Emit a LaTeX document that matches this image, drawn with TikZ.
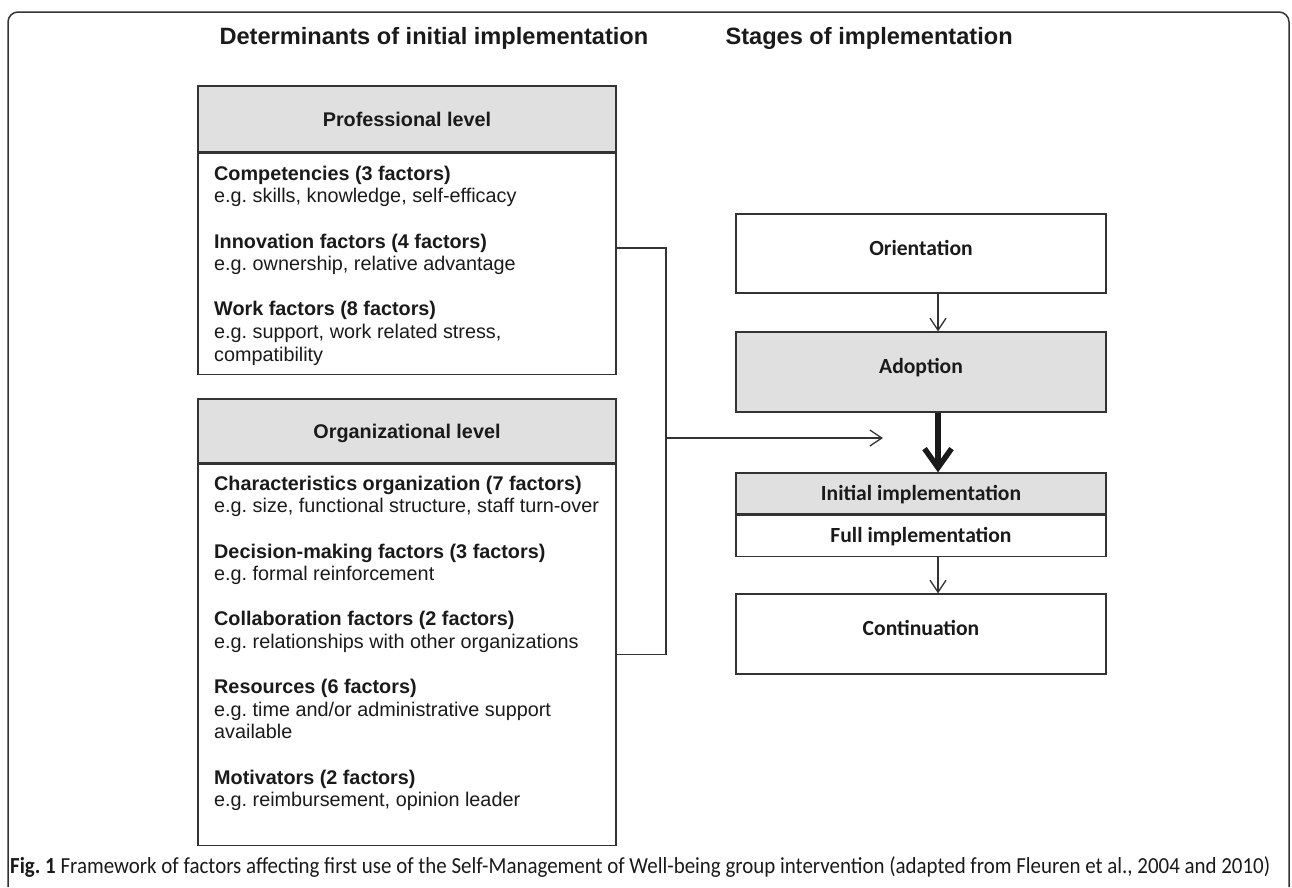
\documentclass[tikz,border=0pt]{standalone}
\usepackage{fontspec}
\setmainfont{Liberation Sans}
\newfontfamily\stagefont{Carlito}
\newfontfamily\capfont[FakeStretch=0.91]{Carlito}
\usetikzlibrary{arrows.meta, positioning, calc}
\definecolor{boxgray}{RGB}{224, 224, 224}
\definecolor{linegray}{RGB}{51, 51, 51}
\definecolor{inkblack}{RGB}{26, 26, 26}
\frenchspacing

\begin{document}
\begin{tikzpicture}[x=1pt, y=-1pt,
      heading/.style = {anchor=base west, text=inkblack,
                        font=\fontsize{23.6}{28}\selectfont\bfseries},
      levelhead/.style = {draw=linegray, line width=1.3pt, fill=boxgray,
                          minimum width=418pt, inner sep=0pt, text=inkblack,
                          font=\fontsize{19.8}{22.6}\selectfont\bfseries,
                          text height=14.2pt, text depth=0pt},
      levelbody/.style = {draw=linegray, line width=1.3pt,
                          minimum width=418pt, inner sep=0pt},
      factors/.style  = {anchor=north west, inner sep=0pt, align=left,
                         text=inkblack, font=\fontsize{19.8}{22.6}\selectfont},
      stage/.style    = {draw=linegray, line width=1.3pt, minimum width=370pt,
                         inner sep=0pt, text=inkblack,
                         font=\stagefont\fontsize{21.6}{26}\selectfont\bfseries,
                         text height=14pt, text depth=11pt},
      substage/.style = {stage, text depth=0pt, minimum height=41pt},
      link/.style     = {draw=linegray, line width=1.3pt},
      flow/.style     = {link, -{Straight Barb[length=12pt, width=16pt]}},
      bigflow/.style  = {draw=inkblack, line width=5.5pt,
                         -{Straight Barb[length=19pt, width=27pt]}},
    ]
    \useasboundingbox (0,0) rectangle (1292,887);

    % --- Rahmen ---
    \draw[linegray, line width=1.5pt, rounded corners=10pt]
      (8,887) -- (8,12) -- (1289,12) -- (1289,887);

    % --- Titel ---
    \node[heading] (tleft)  at (216,44.5) {Determinants of initial implementation};
    \node[heading] (tright) at (722,44.5) {Stages of implementation};

    % --- Professional level ---
    \node[levelhead, minimum height=66pt] (profhead) at (407,119) {Professional level};
    \node[levelbody, minimum height=221pt, below=0pt of profhead] (profbody) {};
    \node[factors] (proftext) at (214,164.2) {\strut\textbf{Competencies (3 factors)}\\
      e.g. skills, knowledge, self-efficacy\\[22.6pt]
      \textbf{Innovation factors (4 factors)}\\
      e.g. ownership, relative advantage\\[22.6pt]
      \textbf{Work factors (8 factors)}\\
      e.g. support, work related stress,\\
      compatibility};

    % --- Organizational level ---
    \node[levelhead, minimum height=64pt] (orghead) at (407,431) {Organizational level};
    \node[levelbody, minimum height=381pt, below=0pt of orghead] (orgbody) {};
    \node[factors] (orgtext) at (214,474.2) {\strut\textbf{Characteristics organization (7 factors)}\\
      e.g. size, functional structure, staff turn-over\\[22.6pt]
      \textbf{Decision-making factors (3 factors)}\\
      e.g. formal reinforcement\\[22.6pt]
      \textbf{Collaboration factors (2 factors)}\\
      e.g. relationships with other organizations\\[22.6pt]
      \textbf{Resources (6 factors)}\\
      e.g. time and/or administrative support\\
      available\\[22.6pt]
      \textbf{Motivators (2 factors)}\\
      e.g. reimbursement, opinion leader};

    % --- Stufen ---
    \node[stage, minimum height=79pt] (orient) at (921,253.5) {Orientation};
    \node[stage, minimum height=80pt, fill=boxgray] (adopt) at (921,372) {Adoption};
    \node[substage, fill=boxgray] (initial) at (921,493.5) {Initial implementation};
    \node[substage, below=0pt of initial] (full) {Full implementation};
    \node[stage, minimum height=80pt] (cont) at (921,634) {Continuation};

    % --- Pfeile ---
    \coordinate (col) at (938,0);
    \draw[flow] (orient.south -| col) -- (adopt.north -| col);
    \draw[bigflow] (adopt.south -| col) -- (initial.north -| col);
    \draw[flow] (full.south -| col) -- (cont.north -| col);

    % Klammer von beiden Ebenen zur Adoption
    \coordinate (join) at (666,438);
    \coordinate (tip)  at (883,438);
    \draw[link] (profbody.east |- 0,248) -| (join) |- (orgbody.east);
    \draw[flow] (join) -- (tip);

    % --- Bildunterschrift ---
    \node[anchor=base west, inner sep=0pt, text=inkblack,
          font=\capfont\fontsize{23}{26}\selectfont] (caption) at (10,873)
      {\textbf{Fig. 1} Framework of factors affecting first use of the Self-Management of Well-being group intervention (adapted from Fleuren et al., 2004 and 2010)};

  \end{tikzpicture}
\end{document}
